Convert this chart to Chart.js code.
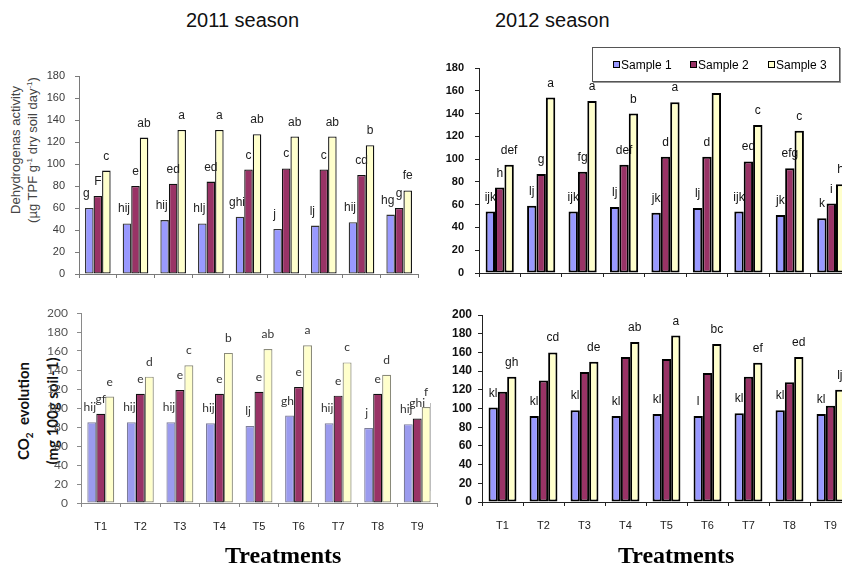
<!DOCTYPE html>
<html>
<head>
<meta charset="utf-8">
<title>Dehydrogenase activity and CO2 evolution, 2011 and 2012 seasons</title>
<script src="https://cdn.jsdelivr.net/npm/chart.js@4.4.1/dist/chart.umd.min.js"></script>
<style>
  html, body { margin: 0; padding: 0; width: 842px; height: 567px; overflow: hidden; background: #fff; }
  .abs { position: absolute; }
  canvas { position: absolute; }
  .season { font-family: "Liberation Sans", Arial, sans-serif; font-size: 20px; line-height: 20px; color: #111; white-space: nowrap; }
  .treat { font-family: "Liberation Serif", "Times New Roman", serif; font-weight: bold; font-size: 24px; line-height: 24px; color: #000; white-space: nowrap; }
  .ytitle { text-align: center; white-space: nowrap; transform: rotate(-90deg); transform-origin: 50% 50%; }
  .legend { left: 592px; top: 47px; width: 246px; height: 33px; border: 1px solid #555; box-shadow: 1px 1px 0 #999; background: #fff; z-index: 5;
            font-family: "Liberation Sans", Arial, sans-serif; font-size: 12px; color: #000; }
  .legend .item { position: absolute; top: 10px; white-space: nowrap; line-height: 14px; }
  .legend .sw { display: inline-block; width: 5px; height: 5px; border: 1px solid #000; margin-right: 1px; vertical-align: 1px; }
</style>
</head>
<body>

<div class="abs season" style="left:186px; top:10px;">2011 season</div>
<div class="abs season" style="left:495px; top:10px;">2012 season</div>

<div class="abs ytitle" id="dhTitle" style="left:-57px; top:136px; width:160px; height:28px;
     font-family:'Liberation Sans', Arial, sans-serif; font-size:13px; line-height:14px; color:#444;">
  Dehydrogenas activity<br>(µg TPF g<sup style="font-size:8px">-1</sup> dry soil day<sup style="font-size:8px">-1</sup>)
</div>
<div class="abs ytitle" id="co2Title" style="left:-30px; top:388px; width:130px; height:46px;
     font-family:Lato, 'Open Sans', sans-serif; font-weight:bold; font-size:15px; line-height:23px; color:#111;">
  CO<sub style="font-size:10px">2</sub>&nbsp; evolution<br>(mg 100g soil-1)
</div>

<canvas id="dh2011" width="430" height="240" style="left:0px; top:56px;"></canvas>
<canvas id="dh2012" width="430" height="240" style="left:430px; top:48px;"></canvas>
<canvas id="co2011" width="445" height="274" style="left:0px; top:293px;"></canvas>
<canvas id="co2012" width="430" height="272" style="left:430px; top:295px;"></canvas>

<div class="abs" style="left:430px; top:403px; width:1px; height:88px; background:#bdbdbd;"></div>

<div class="abs legend" id="legend"></div>

<div class="abs treat" style="left:225px; top:543px;">Treatments</div>
<div class="abs treat" style="left:618px; top:543px;">Treatments</div>

<script>
// Categories and series names
const treatments = ['T1', 'T2', 'T3', 'T4', 'T5', 'T6', 'T7', 'T8', 'T9'];
const seriesNames = ['Sample 1', 'Sample 2', 'Sample 3'];

// Dehydrogenase activity, 2011 season
const dh2011S1 = [60, 46, 49, 46, 52, 41, 44, 47, 54];
const dh2011S2 = [71, 80, 82, 84, 95, 96, 95, 90, 60];
const dh2011S3 = [94, 124, 131, 131, 127, 125, 125, 117, 76];
const dh2011L1 = ['g', 'hij', 'hij', 'hlj', 'ghi', 'j', 'lj', 'hij', 'hg'];
const dh2011L2 = ['F', 'e', 'ed', 'ed', 'c', 'c', 'c', 'cd', 'g'];
const dh2011L3 = ['c', 'ab', 'a', 'a', 'ab', 'ab', 'ab', 'b', 'fe'];

// Dehydrogenase activity, 2012 season
const dh2012S1 = [54, 59, 54, 58, 53, 57, 54, 51, 48];
const dh2012S2 = [75, 87, 89, 95, 102, 102, 98, 92, 61];
const dh2012S3 = [95, 154, 151, 140, 150, 158, 130, 125, 78];
const dh2012L1 = ['ijk', 'lj', 'ijk', 'lj', 'jk', 'lj', 'ijk', 'jk', 'k'];
const dh2012L2 = ['h', 'g', 'fg', 'def', 'd', 'd', 'ed', 'efg', 'i'];
const dh2012L3 = ['def', 'a', 'a', 'b', 'a', 'a', 'c', 'c', 'h'];

// CO2 evolution, 2011 season
const co2011S1 = [85, 85, 85, 84, 81, 92, 84, 79, 83];
const co2011S2 = [94, 115, 119, 115, 117, 122, 113, 115, 89];
const co2011S3 = [112, 133, 145, 158, 162, 166, 148, 135, 101];
const co2011L1 = ['hij', 'hij', 'hij', 'hij', 'lj', 'gh', 'hij', 'j', 'hij'];
const co2011L2 = ['gf', 'e', 'e', 'e', 'e', 'e', 'e', 'e', 'ghi'];
const co2011L3 = ['e', 'd', 'c', 'b', 'ab', 'a', 'c', 'd', 'f'];

// CO2 evolution, 2012 season
const co2012S1 = [101, 92, 98, 92, 94, 92, 95, 98, 94];
const co2012S2 = [118, 130, 139, 155, 153, 138, 134, 128, 103];
const co2012S3 = [134, 160, 150, 171, 178, 169, 149, 155, 120];
const co2012L1 = ['kl', 'kl', 'kl', 'kl', 'kl', 'l', 'kl', 'kl', 'kl'];
const co2012L2 = ['', '', '', '', '', '', '', '', ''];
const co2012L3 = ['gh', 'cd', 'de', 'ab', 'a', 'bc', 'ef', 'ed', 'lj'];

// Axis ranges
const dhMax = 180;
const co2Max = 200;
const yStep = 20;

// Series fill colours
const fills = ['#9999ff', '#993366', '#ffffcc'];
const fillsSoft = ['#9b9bee', '#993366', '#ffffcc'];

// Significance letters drawn above each bar
const barLetters = {
  id: 'barLetters',
  afterDatasetsDraw(chart, args, opts) {
    const ctx = chart.ctx;
    ctx.save();
    ctx.font = opts.font;
    ctx.fillStyle = opts.color;
    ctx.textAlign = 'center';
    ctx.textBaseline = 'alphabetic';
    chart.data.datasets.forEach((ds, i) => {
      const meta = chart.getDatasetMeta(i);
      const letters = opts.labels[i];
      const dx = (opts.dx && opts.dx[i]) || 0;
      meta.data.forEach((bar, j) => {
        const t = letters[j];
        if (!t) return;
        ctx.fillText(t, bar.x + dx, bar.y - opts.gap);
      });
    });
    ctx.restore();
  }
};

function panel(id, p) {
  const datasets = p.values.map((vals, i) => ({
    label: seriesNames[i],
    data: vals,
    backgroundColor: p.fills[i],
    borderColor: p.borders[i],
    borderWidth: p.borderWidth,
    borderSkipped: false,
    barPercentage: 1,
    categoryPercentage: 0.68
  }));
  return new Chart(document.getElementById(id), {
    type: 'bar',
    data: { labels: treatments, datasets },
    options: {
      responsive: false,
      animation: false,
      events: [],
      layout: { padding: p.padding },
      plugins: {
        legend: { display: false },
        tooltip: { enabled: false },
        barLetters: { labels: p.letters, font: p.letterFont, color: p.letterColor, gap: 11, dx: p.letterDx }
      },
      scales: {
        x: {
          offset: true,
          grid: { offset: true, drawOnChartArea: false, drawTicks: true, tickLength: 4, color: p.axisColor, lineWidth: 1 },
          border: { display: true, color: p.axisColor, width: 1 },
          ticks: {
            display: p.showX,
            padding: 13,
            color: '#222',
            font: { family: '"Liberation Sans Narrow", "Liberation Sans", Arial, sans-serif', size: 11 }
          },
          afterFit(s) { s.height = p.xH; s.paddingLeft = 0; s.paddingRight = 0; }
        },
        y: {
          min: 0,
          max: p.max,
          grid: { drawOnChartArea: false, drawTicks: true, tickLength: 4, color: p.axisColor, lineWidth: 1 },
          border: { display: true, color: p.axisColor, width: 1 },
          ticks: { stepSize: yStep, padding: p.tickPad, color: p.tickColor, font: p.tickFont },
          afterFit(s) { s.width = p.yW; s.paddingTop = 0; s.paddingBottom = 0; }
        }
      }
    },
    plugins: [barLetters]
  });
}

const arial = '"Liberation Sans", Arial, sans-serif';

panel('dh2011', {
  values: [dh2011S1, dh2011S2, dh2011S3],
  letters: [dh2011L1, dh2011L2, dh2011L3],
  letterDx: [-3, 0, 0],
  letterFont: '12px ' + arial, letterColor: '#222',
  fills: fills, borders: ['#333', '#111', '#111'], borderWidth: 1.3,
  max: dhMax, padding: { top: 20, right: 12, left: 0, bottom: 0 }, yW: 79, xH: 22, showX: false,
  axisColor: '#7a7a7a', tickColor: '#3a3a3a', tickFont: { family: arial, size: 11 }, tickPad: 10
});

panel('dh2012', {
  values: [dh2012S1, dh2012S2, dh2012S3],
  letters: [dh2012L1, dh2012L2, dh2012L3],
  letterDx: [0, 0, 0],
  letterFont: '12px ' + arial, letterColor: '#111',
  fills: fills, borders: ['#000', '#000', '#000'], borderWidth: 2,
  max: dhMax, padding: { top: 20, right: 8, left: 0, bottom: 0 }, yW: 49, xH: 15, showX: false,
  axisColor: '#222', tickColor: '#111', tickFont: { family: arial, size: 11, weight: 'bold' }, tickPad: 11
});

panel('co2011', {
  values: [co2011S1, co2011S2, co2011S3],
  letters: [co2011L1, co2011L2, co2011L3],
  letterDx: [-2, 0, 0],
  letterFont: '12px Lato, "Open Sans", sans-serif', letterColor: '#333',
  fills: fillsSoft, borders: ['#7d7d9a', '#111', '#8a8a7a'], borderWidth: 1.2,
  max: co2Max, padding: { top: 20, right: 8, left: 0, bottom: 0 }, yW: 81, xH: 64, showX: true,
  axisColor: '#8a8a8a', tickColor: '#555', tickFont: { family: 'Lato, "Open Sans", sans-serif', size: 12 }, tickPad: 9
});

panel('co2012', {
  values: [co2012S1, co2012S2, co2012S3],
  letters: [co2012L1, co2012L2, co2012L3],
  letterDx: [0, 0, 0],
  letterFont: '12px ' + arial, letterColor: '#111',
  fills: fills, borders: ['#000', '#000', '#000'], borderWidth: 2,
  max: co2Max, padding: { top: 20, right: 9, left: 0, bottom: 0 }, yW: 52, xH: 65, showX: true,
  axisColor: '#222', tickColor: '#111', tickFont: { family: arial, size: 12, weight: 'bold' }, tickPad: 6
});

// Legend for the three samples
const legend = document.getElementById('legend');
const legendX = [20, 97, 175];
seriesNames.forEach((name, i) => {
  const item = document.createElement('div');
  item.className = 'item';
  item.style.left = legendX[i] + 'px';
  const sw = document.createElement('span');
  sw.className = 'sw';
  sw.style.background = fills[i];
  item.appendChild(sw);
  item.appendChild(document.createTextNode(name));
  legend.appendChild(item);
});
</script>
</body>
</html>
